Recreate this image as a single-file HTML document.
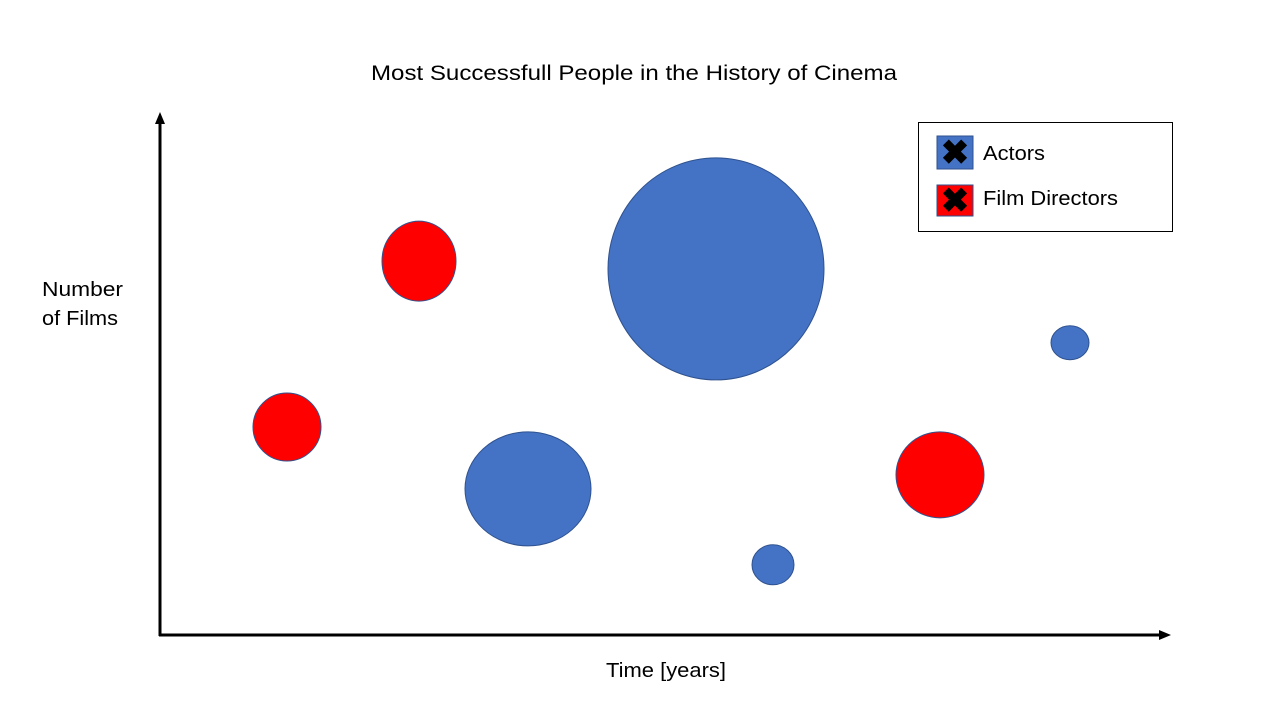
<!DOCTYPE html>
<html><head><meta charset="utf-8"><style>
html,body{margin:0;padding:0;background:#fff;}
svg{display:block;font-family:"Liberation Sans",Calibri,sans-serif;}
</style></head><body>
<svg id="chart" width="1280" height="720" viewBox="0 0 1280 720">
<text x="371" y="80" font-size="21" textLength="526" lengthAdjust="spacingAndGlyphs" fill="#000">Most Successfull People in the History of Cinema</text>
<g>
<line x1="160" y1="636" x2="160" y2="122" stroke="#000" stroke-width="3"/>
<polygon points="160,112 155,124 165,124" fill="#000"/>
</g>
<g>
<line x1="159" y1="635" x2="1160" y2="635" stroke="#000" stroke-width="3"/>
<polygon points="1171,635 1159,630 1159,640" fill="#000"/>
</g>
<text font-size="20" fill="#000"><tspan x="42" y="296" textLength="81" lengthAdjust="spacingAndGlyphs">Number</tspan><tspan x="42" y="325" textLength="76" lengthAdjust="spacingAndGlyphs">of Films</tspan></text>
<text x="606" y="677" font-size="20" textLength="120" lengthAdjust="spacingAndGlyphs" fill="#000">Time [years]</text>
<g id="bubbles"></g>
<g>
<rect x="918.5" y="122.5" width="254" height="109" fill="#fff" stroke="#000" stroke-width="1"/>
<g>
<rect x="937" y="136" width="36" height="33" fill="#4472C4" stroke="#2F528F"/>
<text x="955" y="164" text-anchor="middle" font-size="34" font-weight="bold" fill="#000">✖</text>
<text x="983" y="160" font-size="20" textLength="62" lengthAdjust="spacingAndGlyphs" fill="#000">Actors</text>
</g>
<g>
<rect x="937" y="185" width="36" height="31" fill="#FF0000" stroke="#2F528F"/>
<text x="955" y="212" text-anchor="middle" font-size="34" font-weight="bold" fill="#000">✖</text>
<text x="983" y="205" font-size="20" textLength="135" lengthAdjust="spacingAndGlyphs" fill="#000">Film Directors</text>
</g>
</g>
</svg>
<script>
const names = ["director-1","director-2","actor-1","actor-2","actor-3","actor-4","director-3"];
const groups = ["director","director","actor","actor","actor","actor","director"];
const timeValues = [25.9, 12.7, 55.6, 36.8, 61.3, 91.0, 78.0];
const filmValues = [71.9, 40.0, 70.4, 28.1, 13.5, 56.2, 30.8];
const sizeW = [37, 34, 108, 63, 21, 19, 44];
const sizeH = [40, 34, 111, 57, 20, 17, 43];

const colors = {actor:"#4472C4", director:"#FF0000"};
const strokes = {actor:"#2F528F", director:"#2F528F"};
function xScale(v){ return 160 + v*10; }
function yScale(v){ return 635 - v*5.2; }
function rScale(v){ return v; }
const g = document.getElementById('bubbles');
for (let i=0;i<timeValues.length;i++){
  const e = document.createElementNS('http://www.w3.org/2000/svg','ellipse');
  e.setAttribute('cx', xScale(timeValues[i]));
  e.setAttribute('cy', yScale(filmValues[i]));
  e.setAttribute('rx', rScale(sizeW[i]));
  e.setAttribute('ry', rScale(sizeH[i]));
  e.setAttribute('fill', colors[groups[i]]);
  e.setAttribute('stroke', strokes[groups[i]]);
  e.setAttribute('stroke-width', '1');
  
  
  g.appendChild(e);
}
</script>
</body></html>
